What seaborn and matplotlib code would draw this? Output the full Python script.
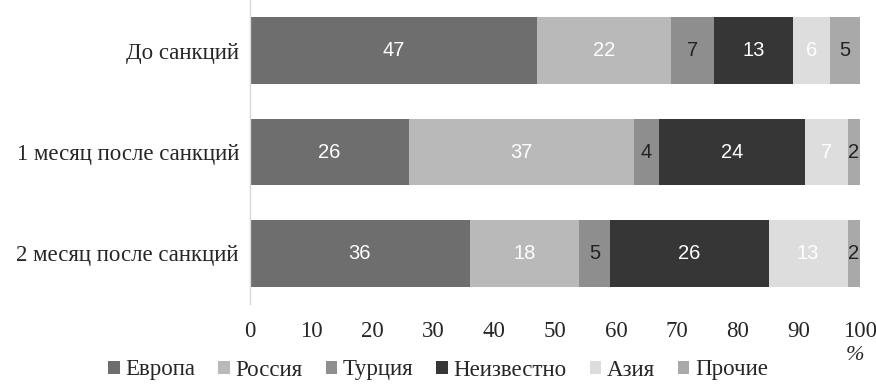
import pandas as pd
import numpy as np
import seaborn as sns
import matplotlib.pyplot as plt
from matplotlib.patches import Patch

periods = ["До санкций", "1 месяц после санкций", "2 месяц после санкций"]
regions = ["Европа", "Россия", "Турция", "Неизвестно", "Азия", "Прочие"]
europe = [47, 26, 36]
russia = [22, 37, 18]
turkey = [7, 4, 5]
unknown = [13, 24, 26]
asia = [6, 7, 13]
other = [5, 2, 2]
x_ticks = [0, 10, 20, 30, 40, 50, 60, 70, 80, 90, 100]

colors = ["#6e6e6e", "#b9b9b9", "#8e8e8e", "#363636", "#dddddd", "#a9a9a9"]
label_colors = ["white", "white", "#222222", "white", "white", "#222222"]

df = pd.DataFrame({"Период": periods, "Европа": europe, "Россия": russia,
                   "Турция": turkey, "Неизвестно": unknown, "Азия": asia, "Прочие": other})
cum = df[regions].cumsum(axis=1)

sns.set_theme(style="white")
plt.rcParams["font.family"] = ["Liberation Serif", "DejaVu Serif"]

fig = plt.figure(figsize=(8.76, 3.88), dpi=100)
ax = fig.add_axes([250 / 876, 84 / 388, 610 / 876, 304 / 388])

# stacked bars: draw cumulative totals from the widest layer down
for i in range(len(regions) - 1, -1, -1):
    sns.barplot(x=cum[regions[i]], y=df["Период"], orient="h", color=colors[i],
                width=0.66, saturation=1, ax=ax, linewidth=0)

for i, r in enumerate(regions):
    for j in range(len(periods)):
        v = df[r][j]
        ax.text(cum[r][j] - v / 2, j, str(v), ha="center", va="center",
                fontsize=14.5, color=label_colors[i], family="Liberation Sans")

ax.set_xlim(0, 100)
ax.set_ylim(2.5, -0.5)
ax.set_xticks(x_ticks)
ax.set_xticklabels([str(t) for t in x_ticks])
ax.set_xlabel("")
ax.set_ylabel("")
ax.tick_params(axis="x", length=0, labelsize=16.5, pad=12)
ax.tick_params(axis="y", length=0, labelsize=16.5, pad=8)
for s in ["top", "right", "bottom"]:
    ax.spines[s].set_visible(False)
ax.spines["left"].set_color("#d9d9d9")
ax.spines["left"].set_linewidth(1)

fig.text(855 / 876, 1 - 356 / 388, "%", ha="center", va="center", fontsize=16, style="italic")

handles = [Patch(facecolor=c, edgecolor="none") for c in colors]
fig.legend(handles, regions, loc="center", bbox_to_anchor=(438 / 876, 1 - 370 / 388), ncol=6,
           frameon=False, fontsize=16.5, handlelength=0.5, handleheight=0.5,
           handletextpad=0.25, columnspacing=1.0, borderaxespad=0)

fig.savefig("out.png", dpi=100)
